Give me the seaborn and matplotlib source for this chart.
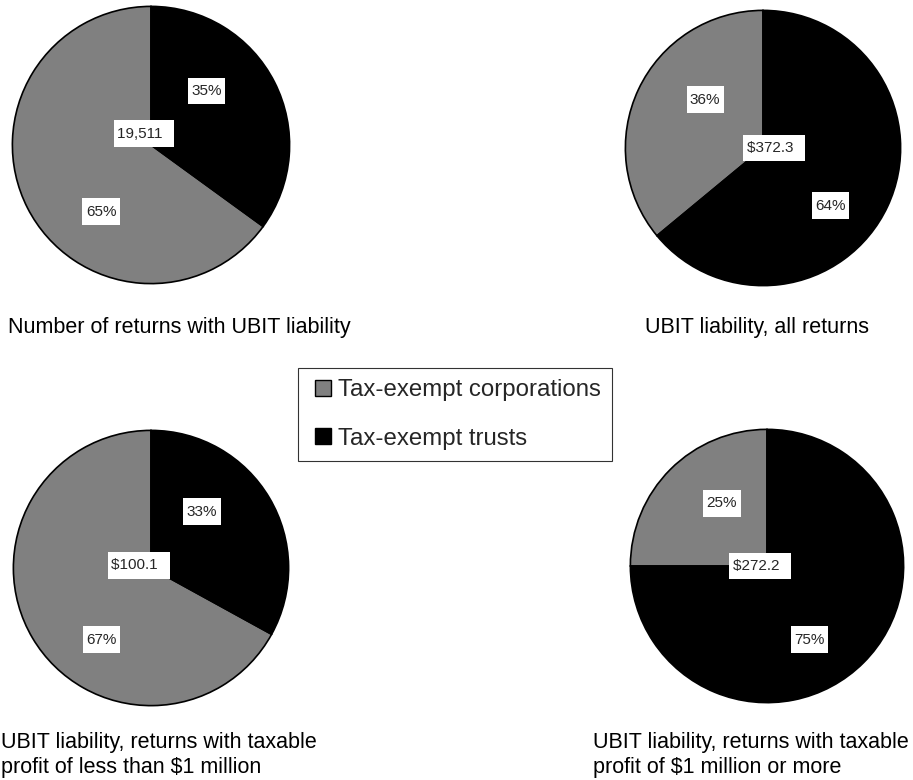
import matplotlib
matplotlib.use("Agg")
import matplotlib.pyplot as plt
from matplotlib.patches import Patch, Rectangle
from matplotlib.legend_handler import HandlerPatch
from matplotlib.path import Path
import seaborn as sns

# ---- data ----
categories = ["Tax-exempt corporations", "Tax-exempt trusts"]
corp_pct = [65, 36, 67, 25]
trust_pct = [35, 64, 33, 75]
totals = ["19,511", "$372.3", "$100.1", "$272.2"]
titles = [
    "Number of returns with UBIT liability",
    "UBIT liability, all returns",
    "UBIT liability, returns with taxable\nprofit of less than $1 million",
    "UBIT liability, returns with taxable\nprofit of $1 million or more",
]

# ---- style ----
sns.set_theme(style="white")
plt.rcParams["font.family"] = ["Liberation Sans", "DejaVu Sans"]
colors = ["#808080", "#000000"]

W, H = 913, 780
fig = plt.figure(figsize=(W / 100, H / 100), dpi=100)
fig.patch.set_facecolor("white")


def label_box(x0, y0, width, height, mutation_size):
    px = 0.22 * mutation_size
    py = 0.42 * mutation_size
    x0, y0 = x0 - px, y0 - py
    x1, y1 = x0 + width + 2 * px, y0 + height + 2 * py
    return Path([(x0, y0), (x1, y0), (x1, y1), (x0, y1), (x0, y0)],
                closed=True)


def square_patch(legend, orig_handle, xdescent, ydescent, width, height, fontsize):
    side = height
    return Rectangle((-xdescent + width - side, -ydescent), side, side)


# layout (pixels): pie center x, y, radius
pies = [(151, 145, 140), (763, 148, 139), (151, 568, 139), (767, 566, 138)]
# label positions in unit-circle coords: (corp label), (trust label), (total label)
label_pos = [
    [(-0.36, -0.48), (0.40, 0.39), (-0.05, 0.08)],
    [(-0.42, 0.35), (0.49, -0.42), (0.08, 0.0)],
    [(-0.36, -0.52), (0.37, 0.41), (-0.09, 0.02)],
    [(-0.33, 0.46), (0.31, -0.54), (-0.05, 0.0)],
]
title_pos = [(8, 327, "left"), (757, 327, "center"), (1, 755, "left"), (593, 755, "left")]

box = dict(boxstyle=label_box, facecolor="white", edgecolor="none")

for i, (cx, cy, r) in enumerate(pies):
    ax = fig.add_axes([(cx - r) / W, 1 - (cy + r) / H, 2 * r / W, 2 * r / H])
    ax.pie(
        [corp_pct[i], trust_pct[i]],
        colors=colors,
        startangle=90,
        counterclock=True,
        radius=1,
        wedgeprops=dict(edgecolor="black", linewidth=1.2),
    )
    ax.set_xlim(-1.01, 1.01)
    ax.set_ylim(-1.01, 1.01)
    ax.set_aspect("equal")
    ax.axis("off")
    (px1, py1), (px2, py2), (px3, py3) = label_pos[i]
    ax.text(px1, py1, f"{corp_pct[i]}%", ha="center", va="center", fontsize=11, bbox=box)
    ax.text(px2, py2, f"{trust_pct[i]}%", ha="center", va="center", fontsize=11, bbox=box)
    ax.text(px3, py3, totals[i] + "  ", ha="center", va="center", fontsize=11, bbox=box)
    tx, ty, ha = title_pos[i]
    fig.text(tx / W, 1 - ty / H, titles[i], ha=ha, va="center", fontsize=15.5,
             linespacing=1.2, color="black")

handles = [Patch(facecolor=c, edgecolor="black", linewidth=1) for c in colors]
leg = fig.legend(
    handles, categories,
    loc="upper left",
    bbox_to_anchor=(298 / W, 1 - 368 / H),
    bbox_transform=fig.transFigure,
    borderaxespad=0,
    fontsize=17.3,
    frameon=True,
    fancybox=False,
    edgecolor="black",
    handlelength=0.9,
    handleheight=0.63,
    handletextpad=0.3,
    labelspacing=1.1,
    borderpad=0.47,
    handler_map={Patch: HandlerPatch(patch_func=square_patch)},
)
leg.get_frame().set_linewidth(0.8)

fig.savefig("out.png", dpi=100, facecolor="white")
